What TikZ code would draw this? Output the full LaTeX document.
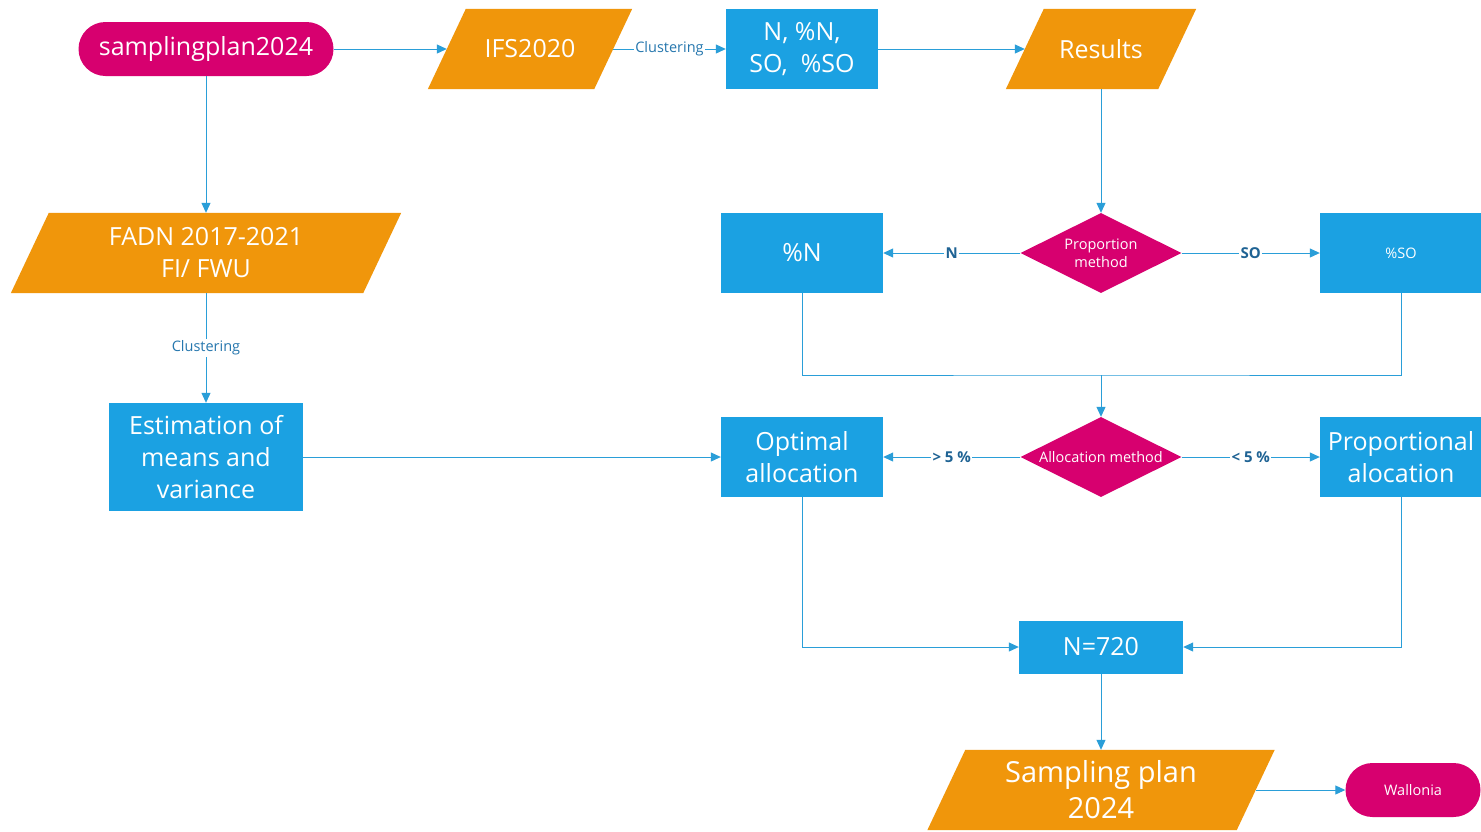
\documentclass[tikz,border=0pt]{standalone}
\usepackage{fontspec}
\setmainfont{Open Sans}
\usetikzlibrary{shapes.geometric,arrows.meta,backgrounds,calc}
\definecolor{cblue}{HTML}{1BA1E2}
\definecolor{corange}{HTML}{F0960B}
\definecolor{cmag}{HTML}{D7006F}
\definecolor{cline}{HTML}{2A9ED8}
\definecolor{clab}{HTML}{2677AE}
\definecolor{clabb}{HTML}{1F6394}
\begin{document}
\begin{tikzpicture}[x=1pt,y=-1pt,
 big/.style={font=\fontsize{25}{32}\selectfont},
 small/.style={font=\fontsize{14.5}{18}\selectfont},
 box/.style={fill=cblue, text=white, inner sep=0, align=center},
 pill/.style={fill=cmag, text=white, inner sep=0, rounded corners=27, minimum height=54, align=center},
 paratext/.style={text=white, inner sep=0, align=center, minimum height=80},
 dia/.style={diamond, fill=cmag, text=white, inner sep=0, aspect=2, minimum width=161, minimum height=80, align=center},
 conn/.style={draw=cline, line width=1pt, -{Triangle[length=10pt,width=9pt]}},
 wire/.style={draw=cline, line width=1pt},
 lab/.style={fill=white, text=clab, inner sep=1.5pt, font=\fontsize{14.5}{16}\selectfont},
 blab/.style={fill=white, text=clabb, inner sep=1.5pt, font=\bfseries\fontsize{15}{16}\selectfont}]
\useasboundingbox (0,0) rectangle (1481,831);

\node[pill, big, minimum width=255] (sp) at (206,49) {samplingplan2024};
\node[paratext, big, minimum width=166] (ifs) at (530,49) {IFS2020};
\node[box, big, minimum width=152, minimum height=80] (nso) at (802,49) {N, \%N,\\SO,\ \ \%SO};
\node[paratext, big, minimum width=152] (res) at (1101,49) {Results};
\node[paratext, big, minimum width=352] (fadn) at (206,253) {FADN 2017-2021\\FI/ FWU};
\node[box, big, minimum width=162, minimum height=80] (pn) at (802,253) {\%N};
\node[dia, small] (pm) at (1101,253) {Proportion\\method};
\node[box, small, minimum width=162, minimum height=80] (pso) at (1401,253) {\%SO};
\node[box, big, minimum width=194, minimum height=108] (est) at (206,457) {Estimation of\\means and\\variance};
\node[box, big, minimum width=162, minimum height=80] (opt) at (802,457) {Optimal\\allocation};
\node[dia, small] (am) at (1101,457) {Allocation method};
\node[box, big, minimum width=162, minimum height=80] (prop) at (1401,457) {Proportional\\alocation};
\node[box, big, minimum width=164, minimum height=53] (n720) at (1101,647) {N=720};
\node[paratext, font=\fontsize{29}{36}\selectfont, minimum width=309] (spl) at (1101,790) {Sampling plan\\2024};
\node[pill, small, minimum width=135] (wal) at (1413,790) {Wallonia};

\begin{pgfonlayer}{background}
\fill[white] (0,0) rectangle (1481,831);
\foreach \n in {ifs,res,fadn,spl}
  \fill[corange] ($(\n.south west)+(-19,0)$) -- ($(\n.south east)+(-19,0)$)
     -- ($(\n.north east)+(19,0)$) -- ($(\n.north west)+(19,0)$) -- cycle;
\end{pgfonlayer}

\draw[conn] (sp) -- (ifs);
\draw[conn] (ifs) -- node[lab]{Clustering} (nso);
\draw[conn] (nso) -- (res);
\draw[conn] (sp) -- (fadn);
\draw[conn] (fadn) -- node[lab]{Clustering} (est);
\draw[conn] (res) -- (pm);
\draw[conn] (pm) -- node[blab]{N} (pn);
\draw[conn] (pm) -- node[blab]{SO} (pso);
\coordinate (j) at (1101,375);
\draw[wire] (pn.south) |- (j) -| (pso.south);
\draw[conn] (j) -- (am);
\draw[conn] (est) -- (opt);
\draw[conn] (am) -- node[blab]{> 5 \%} (opt);
\draw[conn] (am) -- node[blab]{< 5 \%} (prop);
\draw[conn] (opt.south) |- (n720.west);
\draw[conn] (prop.south) |- (n720.east);
\draw[conn] (n720) -- (spl);
\draw[conn] (spl) -- (wal);
\end{tikzpicture}
\end{document}
